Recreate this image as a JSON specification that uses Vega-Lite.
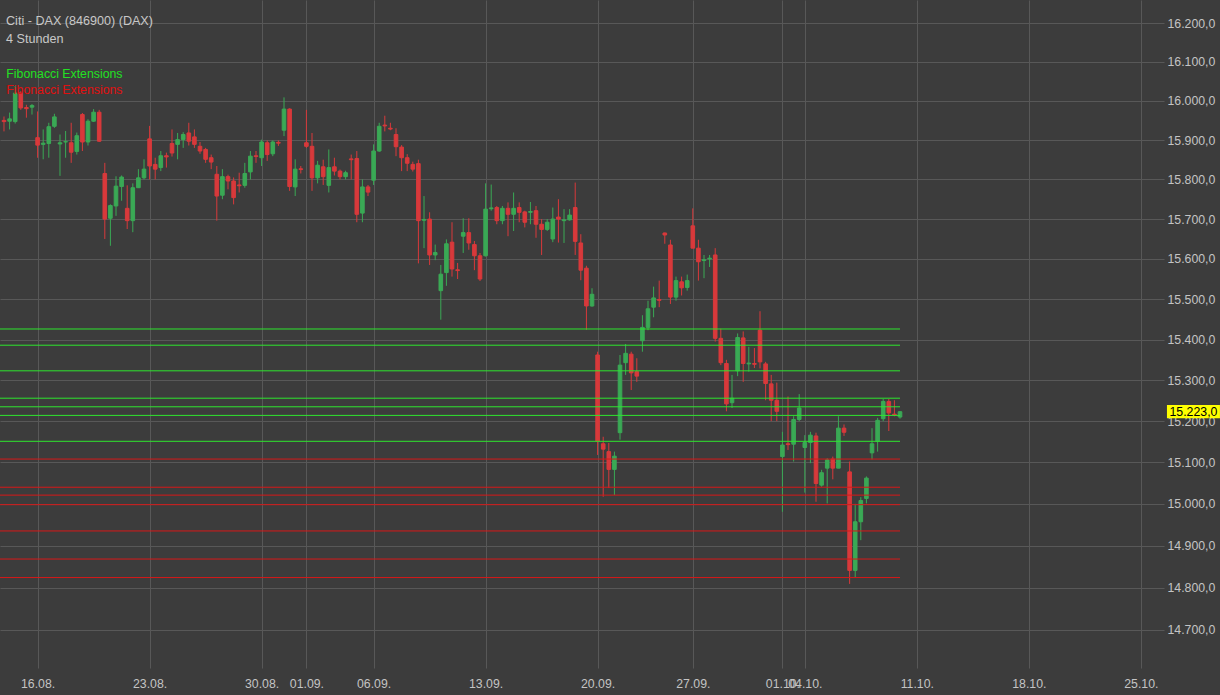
{
  "$schema": "https://vega.github.io/schema/vega-lite/v6.json",
  "width": 1164,
  "height": 668,
  "autosize": {"type": "none"},
  "padding": {"left": 0, "top": 0, "right": 56, "bottom": 27},
  "background": "#3c3c3c",
  "config": {
    "view": {"stroke": null},
    "font": "Liberation Sans",
    "locale": {"number": {"decimal": ",", "thousands": ".", "grouping": [3], "currency": ["", " €"]}},
    "axis": {"grid": true, "gridColor": "#585858", "gridWidth": 1, "ticks": false, "domain": false, "labelColor": "#c4c4c4", "labelFontSize": 12.3, "labelFont": "Liberation Sans", "title": null, "labelOverlap": false, "labelFlush": false, "labelBound": false}
  },
  "title": {
    "text": "Citi - DAX (846900) (DAX)",
    "subtitle": "4 Stunden",
    "anchor": "start",
    "frame": "group",
    "orient": "top",
    "offset": -46,
    "dx": 6,
    "font": "Liberation Sans",
    "subtitleFont": "Liberation Sans",
    "fontSize": 12.6,
    "subtitleFontSize": 12.6,
    "fontWeight": "normal",
    "color": "#c8c8c8",
    "subtitleColor": "#c8c8c8",
    "subtitlePadding": 6
  },
  "datasets": {
    "candles": [
      {"k":-6,"o":15950,"h":15960,"l":15922,"c":15947},
      {"k":-5,"o":15948,"h":15970,"l":15927,"c":15954},
      {"k":-4,"o":15947,"h":16038,"l":15942,"c":16020},
      {"k":-3,"o":16020,"h":16025,"l":15977,"c":15982},
      {"k":-2,"o":15983,"h":15990,"l":15957,"c":15980},
      {"k":-1,"o":15984,"h":15992,"l":15965,"c":15988},
      {"k":0,"o":15906,"h":15973,"l":15855,"c":15887},
      {"k":1,"o":15889,"h":15927,"l":15851,"c":15892},
      {"k":2,"o":15891,"h":15944,"l":15855,"c":15934},
      {"k":3,"o":15935,"h":15967,"l":15931,"c":15959},
      {"k":4,"o":15890,"h":15914,"l":15809,"c":15893},
      {"k":5,"o":15895,"h":15923,"l":15855,"c":15896},
      {"k":6,"o":15893,"h":15944,"l":15842,"c":15869},
      {"k":7,"o":15871,"h":15919,"l":15863,"c":15911},
      {"k":8,"o":15965,"h":15969,"l":15872,"c":15895},
      {"k":9,"o":15895,"h":15953,"l":15886,"c":15948},
      {"k":10,"o":15948,"h":15979,"l":15946,"c":15971},
      {"k":11,"o":15971,"h":15977,"l":15895,"c":15897},
      {"k":12,"o":15815,"h":15842,"l":15650,"c":15700},
      {"k":13,"o":15702,"h":15737,"l":15633,"c":15734},
      {"k":14,"o":15733,"h":15808,"l":15708,"c":15783},
      {"k":15,"o":15782,"h":15810,"l":15746,"c":15806},
      {"k":16,"o":15727,"h":15785,"l":15675,"c":15696},
      {"k":17,"o":15696,"h":15790,"l":15667,"c":15779},
      {"k":18,"o":15779,"h":15826,"l":15779,"c":15804},
      {"k":19,"o":15804,"h":15851,"l":15800,"c":15826},
      {"k":20,"o":15903,"h":15936,"l":15800,"c":15834},
      {"k":21,"o":15838,"h":15855,"l":15800,"c":15826},
      {"k":22,"o":15830,"h":15872,"l":15821,"c":15860},
      {"k":23,"o":15860,"h":15868,"l":15830,"c":15857},
      {"k":24,"o":15891,"h":15927,"l":15858,"c":15867},
      {"k":25,"o":15889,"h":15918,"l":15851,"c":15901},
      {"k":26,"o":15901,"h":15920,"l":15880,"c":15914},
      {"k":27,"o":15918,"h":15944,"l":15886,"c":15897},
      {"k":28,"o":15908,"h":15927,"l":15880,"c":15889},
      {"k":29,"o":15884,"h":15895,"l":15865,"c":15872},
      {"k":30,"o":15876,"h":15880,"l":15842,"c":15851},
      {"k":31,"o":15855,"h":15863,"l":15826,"c":15844},
      {"k":32,"o":15813,"h":15834,"l":15696,"c":15758},
      {"k":33,"o":15760,"h":15826,"l":15750,"c":15807},
      {"k":34,"o":15807,"h":15812,"l":15775,"c":15796},
      {"k":35,"o":15796,"h":15805,"l":15737,"c":15754},
      {"k":36,"o":15786,"h":15817,"l":15767,"c":15784},
      {"k":37,"o":15785,"h":15842,"l":15779,"c":15815},
      {"k":38,"o":15819,"h":15872,"l":15800,"c":15859},
      {"k":39,"o":15860,"h":15872,"l":15842,"c":15858},
      {"k":40,"o":15855,"h":15901,"l":15834,"c":15895},
      {"k":41,"o":15893,"h":15899,"l":15847,"c":15863},
      {"k":42,"o":15865,"h":15899,"l":15859,"c":15895},
      {"k":43,"o":15894,"h":15899,"l":15885,"c":15892},
      {"k":44,"o":15925,"h":16009,"l":15910,"c":15979},
      {"k":45,"o":15979,"h":15981,"l":15771,"c":15782},
      {"k":46,"o":15781,"h":15851,"l":15758,"c":15826},
      {"k":47,"o":15827,"h":15834,"l":15815,"c":15825},
      {"k":48,"o":15893,"h":15977,"l":15880,"c":15884},
      {"k":49,"o":15884,"h":15918,"l":15771,"c":15804},
      {"k":50,"o":15804,"h":15847,"l":15790,"c":15836},
      {"k":51,"o":15832,"h":15850,"l":15786,"c":15807},
      {"k":52,"o":15785,"h":15876,"l":15767,"c":15830},
      {"k":53,"o":15832,"h":15855,"l":15810,"c":15821},
      {"k":54,"o":15821,"h":15825,"l":15800,"c":15807},
      {"k":55,"o":15807,"h":15822,"l":15800,"c":15817},
      {"k":56,"o":15852,"h":15863,"l":15800,"c":15850},
      {"k":57,"o":15853,"h":15872,"l":15692,"c":15712},
      {"k":58,"o":15715,"h":15800,"l":15692,"c":15781},
      {"k":59,"o":15781,"h":15786,"l":15758,"c":15768},
      {"k":60,"o":15798,"h":15889,"l":15786,"c":15872},
      {"k":61,"o":15872,"h":15944,"l":15870,"c":15935},
      {"k":62,"o":15938,"h":15962,"l":15922,"c":15936},
      {"k":63,"o":15930,"h":15944,"l":15925,"c":15928},
      {"k":64,"o":15914,"h":15930,"l":15859,"c":15883},
      {"k":65,"o":15882,"h":15887,"l":15821,"c":15855},
      {"k":66,"o":15855,"h":15864,"l":15821,"c":15841},
      {"k":67,"o":15838,"h":15845,"l":15820,"c":15826},
      {"k":68,"o":15840,"h":15850,"l":15589,"c":15696},
      {"k":69,"o":15697,"h":15758,"l":15627,"c":15699},
      {"k":70,"o":15700,"h":15717,"l":15585,"c":15610},
      {"k":71,"o":15610,"h":15636,"l":15597,"c":15616},
      {"k":72,"o":15521,"h":15585,"l":15449,"c":15562},
      {"k":73,"o":15566,"h":15649,"l":15533,"c":15638},
      {"k":74,"o":15642,"h":15692,"l":15556,"c":15575},
      {"k":75,"o":15573,"h":15590,"l":15550,"c":15571},
      {"k":76,"o":15657,"h":15702,"l":15615,"c":15666},
      {"k":77,"o":15666,"h":15702,"l":15623,"c":15640},
      {"k":78,"o":15636,"h":15645,"l":15572,"c":15608},
      {"k":79,"o":15608,"h":15615,"l":15545,"c":15550},
      {"k":80,"o":15608,"h":15790,"l":15606,"c":15725},
      {"k":81,"o":15726,"h":15787,"l":15721,"c":15728},
      {"k":82,"o":15729,"h":15733,"l":15687,"c":15696},
      {"k":83,"o":15696,"h":15733,"l":15687,"c":15727},
      {"k":84,"o":15727,"h":15742,"l":15657,"c":15712},
      {"k":85,"o":15712,"h":15767,"l":15670,"c":15727},
      {"k":86,"o":15729,"h":15742,"l":15692,"c":15717},
      {"k":87,"o":15718,"h":15721,"l":15679,"c":15692},
      {"k":88,"o":15717,"h":15743,"l":15687,"c":15719},
      {"k":89,"o":15721,"h":15733,"l":15653,"c":15687},
      {"k":90,"o":15687,"h":15700,"l":15610,"c":15674},
      {"k":91,"o":15674,"h":15700,"l":15670,"c":15692},
      {"k":92,"o":15650,"h":15729,"l":15642,"c":15700},
      {"k":93,"o":15705,"h":15750,"l":15641,"c":15700},
      {"k":94,"o":15696,"h":15725,"l":15640,"c":15698},
      {"k":95,"o":15698,"h":15725,"l":15696,"c":15710},
      {"k":96,"o":15729,"h":15792,"l":15610,"c":15644},
      {"k":97,"o":15640,"h":15662,"l":15547,"c":15572},
      {"k":98,"o":15577,"h":15583,"l":15424,"c":15483},
      {"k":99,"o":15483,"h":15527,"l":15481,"c":15512},
      {"k":100,"o":15362,"h":15370,"l":15118,"c":15151},
      {"k":101,"o":15145,"h":15162,"l":15017,"c":15132},
      {"k":102,"o":15126,"h":15147,"l":15038,"c":15083},
      {"k":103,"o":15083,"h":15126,"l":15021,"c":15115},
      {"k":104,"o":15172,"h":15362,"l":15155,"c":15337},
      {"k":105,"o":15343,"h":15389,"l":15313,"c":15366},
      {"k":106,"o":15364,"h":15370,"l":15276,"c":15318},
      {"k":107,"o":15321,"h":15354,"l":15296,"c":15310},
      {"k":108,"o":15397,"h":15460,"l":15370,"c":15430},
      {"k":109,"o":15430,"h":15496,"l":15423,"c":15476},
      {"k":110,"o":15480,"h":15531,"l":15455,"c":15503},
      {"k":111,"o":15499,"h":15546,"l":15480,"c":15497},
      {"k":112,"o":15665,"h":15666,"l":15638,"c":15660},
      {"k":113,"o":15635,"h":15648,"l":15488,"c":15505},
      {"k":114,"o":15505,"h":15556,"l":15496,"c":15546},
      {"k":115,"o":15543,"h":15556,"l":15509,"c":15528},
      {"k":116,"o":15529,"h":15561,"l":15521,"c":15546},
      {"k":117,"o":15683,"h":15727,"l":15627,"c":15627},
      {"k":118,"o":15627,"h":15648,"l":15546,"c":15593},
      {"k":119,"o":15596,"h":15610,"l":15552,"c":15598},
      {"k":120,"o":15600,"h":15610,"l":15580,"c":15602},
      {"k":121,"o":15610,"h":15627,"l":15395,"c":15403},
      {"k":122,"o":15403,"h":15427,"l":15337,"c":15343},
      {"k":123,"o":15341,"h":15350,"l":15224,"c":15242},
      {"k":124,"o":15245,"h":15313,"l":15232,"c":15256},
      {"k":125,"o":15323,"h":15415,"l":15310,"c":15405},
      {"k":126,"o":15404,"h":15420,"l":15296,"c":15341},
      {"k":127,"o":15340,"h":15382,"l":15321,"c":15342},
      {"k":128,"o":15341,"h":15379,"l":15330,"c":15339},
      {"k":129,"o":15423,"h":15470,"l":15329,"c":15345},
      {"k":130,"o":15340,"h":15345,"l":15251,"c":15292},
      {"k":131,"o":15291,"h":15313,"l":15200,"c":15251},
      {"k":132,"o":15251,"h":15294,"l":15200,"c":15224},
      {"k":133,"o":15114,"h":15174,"l":14981,"c":15142},
      {"k":134,"o":15145,"h":15260,"l":15130,"c":15143},
      {"k":135,"o":15144,"h":15212,"l":15102,"c":15204},
      {"k":136,"o":15204,"h":15266,"l":15200,"c":15232},
      {"k":137,"o":15136,"h":15166,"l":15027,"c":15148},
      {"k":138,"o":15148,"h":15174,"l":15098,"c":15166},
      {"k":139,"o":15164,"h":15172,"l":15005,"c":15049},
      {"k":140,"o":15045,"h":15082,"l":15041,"c":15075},
      {"k":141,"o":15086,"h":15110,"l":15001,"c":15106},
      {"k":142,"o":15108,"h":15114,"l":15059,"c":15086},
      {"k":143,"o":15086,"h":15212,"l":15086,"c":15183},
      {"k":144,"o":15183,"h":15192,"l":15164,"c":15173},
      {"k":145,"o":15077,"h":15102,"l":14809,"c":14841},
      {"k":146,"o":14841,"h":15000,"l":14825,"c":14957},
      {"k":147,"o":14957,"h":15016,"l":14913,"c":15008},
      {"k":148,"o":15013,"h":15066,"l":15001,"c":15062},
      {"k":149,"o":15123,"h":15183,"l":15107,"c":15145},
      {"k":150,"o":15151,"h":15208,"l":15126,"c":15202},
      {"k":151,"o":15206,"h":15254,"l":15200,"c":15248},
      {"k":152,"o":15248,"h":15254,"l":15176,"c":15220},
      {"k":153,"o":15217,"h":15251,"l":15212,"c":15215},
      {"k":154,"o":15210,"h":15224,"l":15206,"c":15223}
    ],
    "fibGreen": [
      {"set":"Fibonacci Extensions","level":15426},
      {"set":"Fibonacci Extensions","level":15386},
      {"set":"Fibonacci Extensions","level":15323},
      {"set":"Fibonacci Extensions","level":15256},
      {"set":"Fibonacci Extensions","level":15235},
      {"set":"Fibonacci Extensions","level":15214},
      {"set":"Fibonacci Extensions","level":15151}
    ],
    "fibRed": [
      {"set":"Fibonacci Extensions","level":15108},
      {"set":"Fibonacci Extensions","level":15040},
      {"set":"Fibonacci Extensions","level":15021},
      {"set":"Fibonacci Extensions","level":14998},
      {"set":"Fibonacci Extensions","level":14935},
      {"set":"Fibonacci Extensions","level":14868},
      {"set":"Fibonacci Extensions","level":14824}
    ]
  },
  "layer": [
    {
      "data": {"name": "candles"},
      "mark": {"type": "rule", "strokeWidth": 1},
      "encoding": {
        "x": {"field": "k", "type": "quantitative",
          "scale": {"domain": [-6.714, 201.14], "nice": false, "zero": false, "padding": 0},
          "axis": {"title": null, "values": [0,20,40,48,60,80,100,117,133,137,157,177,197],
            "labelExpr": "datum.value==0?'16.08.':datum.value==20?'23.08.':datum.value==40?'30.08.':datum.value==48?'01.09.':datum.value==60?'06.09.':datum.value==80?'13.09.':datum.value==100?'20.09.':datum.value==117?'27.09.':datum.value==133?'01.10.':datum.value==137?'04.10.':datum.value==157?'11.10.':datum.value==177?'18.10.':'25.10.'",
            "labelPadding": 9, "labelAlign": "center", "labelDx": 4}},
        "y": {"field": "l", "type": "quantitative",
          "scale": {"type": "log", "domain": [14610.8, 16260.6], "nice": false, "zero": false, "padding": 0},
          "axis": {"title": null, "orient": "right", "values": [14700,14800,14900,15000,15100,15200,15300,15400,15500,15600,15700,15800,15900,16000,16100,16200],
            "format": ",.1f", "labelPadding": 3, "labelAlign": "left", "labelBaseline": "middle"}},
        "y2": {"field": "h"},
        "color": {"condition": {"test": "datum.c >= datum.o", "value": "#3aa955"}, "value": "#d8393b"}
      }
    },
    {
      "data": {"name": "candles"},
      "mark": {"type": "bar", "width": 3.6, "strokeWidth": 1},
      "encoding": {
        "x": {"field": "k", "type": "quantitative", "scale": {"domain": [-6.714, 201.14], "nice": false, "zero": false, "padding": 0}, "axis": {"title": null}},
        "y": {"field": "o", "type": "quantitative", "scale": {"type": "log", "domain": [14610.8, 16260.6], "nice": false, "zero": false, "padding": 0}, "axis": {"title": null}},
        "y2": {"field": "c"},
        "color": {"condition": {"test": "datum.c >= datum.o", "value": "#3aa955"}, "value": "#d8393b"},
        "stroke": {"condition": {"test": "datum.c >= datum.o", "value": "#3aa955"}, "value": "#d8393b"}
      }
    },
    {
      "data": {"name": "fibGreen"},
      "mark": {"type": "rule", "strokeWidth": 1},
      "encoding": {
        "x": {"datum": -6.714, "type": "quantitative", "scale": {"domain": [-6.714, 201.14], "nice": false, "zero": false, "padding": 0}, "axis": {"title": null}},
        "x2": {"datum": 154.0},
        "y": {"field": "level", "type": "quantitative", "scale": {"type": "log", "domain": [14610.8, 16260.6], "nice": false, "zero": false, "padding": 0}, "axis": {"title": null}},
        "color": {"field": "set", "type": "nominal", "scale": {"range": ["#2ee62e"]},
          "legend": {"orient": "none", "legendX": -6, "legendY": 68, "title": null, "symbolSize": 0, "symbolOpacity": 0, "symbolStrokeWidth": 0, "labelOffset": 0, "padding": 0, "labelColor": "#22e022", "labelFontSize": 12.3, "labelFont": "Liberation Sans"}}
      }
    },
    {
      "data": {"name": "fibRed"},
      "mark": {"type": "rule", "strokeWidth": 1},
      "encoding": {
        "x": {"datum": -6.714, "type": "quantitative", "scale": {"domain": [-6.714, 201.14], "nice": false, "zero": false, "padding": 0}, "axis": {"title": null}},
        "x2": {"datum": 154.0},
        "y": {"field": "level", "type": "quantitative", "scale": {"type": "log", "domain": [14610.8, 16260.6], "nice": false, "zero": false, "padding": 0}, "axis": {"title": null}},
        "stroke": {"field": "set", "type": "nominal", "scale": {"range": ["#d81818"]},
          "legend": {"orient": "none", "legendX": -6, "legendY": 84, "title": null, "symbolSize": 0, "symbolOpacity": 0, "symbolStrokeWidth": 0, "labelOffset": 0, "padding": 0, "labelColor": "#e01010", "labelFontSize": 12.3, "labelFont": "Liberation Sans"}}
      }
    },
    {
      "data": {"name": "candles"},
      "transform": [{"filter": "datum.k == 154"}],
      "mark": {"type": "point", "shape": "M-1,-0.25H1V0.25H-1Z", "filled": true, "size": 2809, "opacity": 1, "color": "#ffff00", "strokeWidth": 0},
      "encoding": {
        "x": {"datum": 206.4, "type": "quantitative", "scale": {"domain": [-6.714, 201.14], "nice": false, "zero": false, "padding": 0}, "axis": {"title": null}},
        "y": {"field": "c", "type": "quantitative", "scale": {"type": "log", "domain": [14610.8, 16260.6], "nice": false, "zero": false, "padding": 0}, "axis": {"title": null}}
      }
    },
    {
      "data": {"name": "candles"},
      "transform": [{"filter": "datum.k == 154"}],
      "mark": {"type": "text", "color": "#000000", "fontSize": 12.3, "font": "Liberation Sans", "align": "center", "baseline": "middle"},
      "encoding": {
        "x": {"datum": 206.4, "type": "quantitative", "scale": {"domain": [-6.714, 201.14], "nice": false, "zero": false, "padding": 0}, "axis": {"title": null}},
        "y": {"field": "c", "type": "quantitative", "scale": {"type": "log", "domain": [14610.8, 16260.6], "nice": false, "zero": false, "padding": 0}, "axis": {"title": null}},
        "text": {"field": "c", "type": "quantitative", "format": ",.1f"}
      }
    }
  ]
}
